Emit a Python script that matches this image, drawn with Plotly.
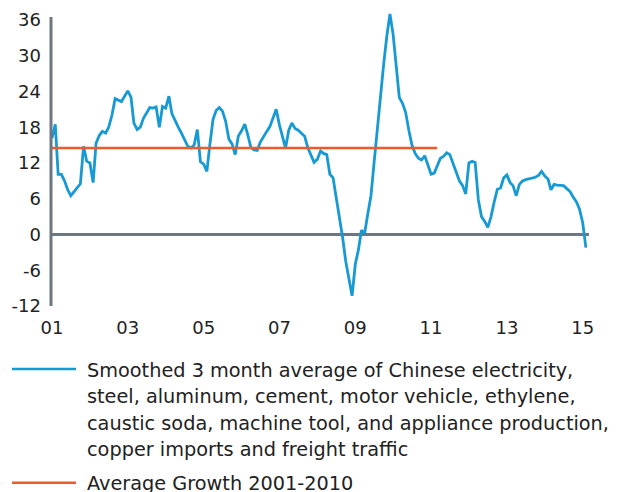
import pandas as pd
import plotly.graph_objects as go

# ---- data (monthly, Jan 2001 .. Feb 2015), % y/y ----
start_month = "2001-01-01"
activity_values = [
    16.2, 18.5, 10.1, 10.1, 9.0, 7.5, 6.5, 7.2, 7.8, 8.5,
    14.8, 12.3, 12.0, 8.7, 15.3, 16.6, 17.3, 17.0, 18.0, 20.0,
    22.8, 22.5, 22.3, 23.2, 24.1, 23.0, 18.7, 17.6, 18.0, 19.5,
    20.5, 21.3, 21.2, 21.4, 18.0, 21.5, 21.2, 23.2, 20.3, 19.0,
    18.0, 17.0, 15.8, 14.8, 14.5, 15.0, 17.6, 12.2, 11.8, 10.6,
    15.0, 19.3, 20.8, 21.3, 20.7, 19.0, 16.0, 15.2, 13.4, 16.5,
    17.4, 18.5, 16.8, 14.6, 14.2, 14.1, 15.5, 16.5, 17.3, 18.1,
    19.5, 21.0, 18.4, 16.3, 14.5, 17.5, 18.7, 17.8, 17.5, 17.0,
    16.5, 14.6, 13.2, 12.1, 12.6, 14.0, 13.6, 13.4, 10.1, 9.5,
    6.2, 3.0, -0.5, -4.5, -7.5, -10.3, -5.0, -2.5, 0.7, 0.2,
    3.4, 6.5, 12.0, 18.0, 23.5, 28.5, 33.3, 37.0, 33.5, 28.5,
    23.0, 22.0, 20.5, 17.5, 15.0, 13.6, 12.8, 12.5, 13.2, 11.7,
    10.1, 10.3, 11.5, 12.8, 13.1, 13.7, 13.4, 12.0, 10.3, 9.0,
    8.2, 6.8, 12.0, 12.3, 12.1, 5.8, 3.0, 2.2, 1.2, 3.0,
    5.5, 7.6, 7.8, 9.5, 10.0, 8.7, 8.2, 6.5, 8.4, 9.0,
    9.2, 9.3, 9.5, 9.6, 9.9, 10.6, 9.8, 9.3, 7.5, 8.4,
    8.3, 8.2, 8.2, 7.7, 7.2, 6.3, 5.5, 4.3, 2.0, -2.2,
]
activity_dates = pd.date_range(start_month, periods=len(activity_values), freq="MS")

avg_dates = ["2001-01-01", "2011-03-01"]
avg_values = [14.5, 14.5]

y_ticks = [-12, -6, 0, 6, 12, 18, 24, 30, 36]
y_tick_labels = ["-12", "-6", "0", "6", "12", "18", "24", "30", "36"]
x_tick_dates = ["2001-01-01", "2003-01-01", "2005-01-01", "2007-01-01",
                "2009-01-01", "2011-01-01", "2013-01-01", "2015-01-01"]
x_tick_labels = ["01", "03", "05", "07", "09", "11", "13", "15"]

legend_blue_lines = [
    "Smoothed 3 month average of Chinese electricity,",
    "steel, aluminum, cement, motor vehicle, ethylene,",
    "caustic soda, machine tool, and appliance production,",
    "copper imports and freight traffic",
]
legend_red_text = "Average Growth 2001-2010"

BLUE = "#179ad3"
RED = "#f05a28"
GRAY = "#6e7684"
TEXT = "#222222"
FONT = "DejaVu Sans"

fig = go.Figure()
fig.add_trace(go.Scatter(x=activity_dates, y=activity_values, mode="lines",
                         line=dict(color=BLUE, width=2.8), showlegend=False))
fig.add_trace(go.Scatter(x=avg_dates, y=avg_values, mode="lines",
                         line=dict(color=RED, width=2.6), showlegend=False))

# page body has an 8px margin -> work in reference pixels minus 8
OFF = 8
W, H = 624 - OFF, 492 - OFF
L, T = 51 - OFF, 9 - OFF
PLOT_R, PLOT_B = 589 - OFF, 306 - OFF
R, B = W - PLOT_R, H - PLOT_B
pw, ph = W - L - R, H - T - B

def px(X):
    return (X - OFF - L) / pw

def py(Y):
    return (PLOT_B - (Y - OFF)) / ph

shapes = [
    dict(type="line", xref="paper", yref="y", x0=0, x1=0, y0=-12, y1=36.5,
         line=dict(color=GRAY, width=3)),
    dict(type="line", xref="paper", yref="paper", x0=px(12), x1=px(76),
         y0=py(369.5), y1=py(369.5), line=dict(color=BLUE, width=2.6)),
    dict(type="line", xref="paper", yref="paper", x0=px(12), x1=px(76),
         y0=py(484), y1=py(484), line=dict(color=RED, width=2.6)),
]

LEG_SIZE = 19.3
annotations = []
for i, t in enumerate(legend_blue_lines):
    annotations.append(dict(text=t, xref="paper", yref="paper", x=px(85),
                            y=py(371 + 26.5 * i), xanchor="left", yanchor="middle",
                            showarrow=False, font=dict(family=FONT, size=LEG_SIZE, color=TEXT)))
annotations.append(dict(text=legend_red_text, xref="paper", yref="paper", x=px(85),
                        y=py(485), xanchor="left", yanchor="middle",
                        showarrow=False, font=dict(family=FONT, size=LEG_SIZE, color=TEXT)))

fig.update_layout(
    width=W, height=H,
    margin=dict(l=L, r=R, t=T, b=B, pad=0),
    paper_bgcolor="white", plot_bgcolor="white",
    shapes=shapes, annotations=annotations,
    xaxis=dict(range=["2000-12-22", "2015-03-03"], showgrid=False, zeroline=False,
               showline=False, tickvals=x_tick_dates, ticktext=x_tick_labels,
               ticks="", tickfont=dict(family=FONT, size=18, color=TEXT),
               ticklabelstandoff=9, ticklabeloverflow="allow"),
    yaxis=dict(range=[-12, 37.5], showgrid=False, zeroline=True, zerolinecolor=GRAY,
               zerolinewidth=2.5, showline=False, tickvals=y_ticks, ticktext=y_tick_labels,
               ticks="", tickfont=dict(family=FONT, size=18, color=TEXT),
               ticklabelstandoff=9, ticklabeloverflow="allow"),
)

fig.write_html("out.html")
